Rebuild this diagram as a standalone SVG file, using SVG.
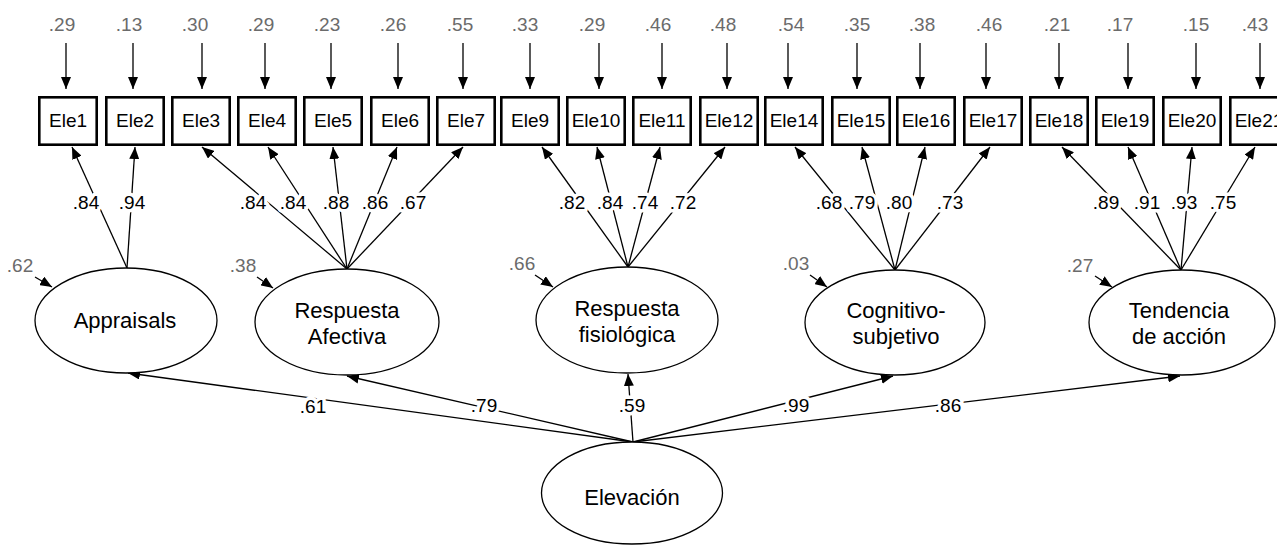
<svg xmlns="http://www.w3.org/2000/svg" width="1277" height="545" viewBox="0 0 1277 545">
  <defs>
    <marker id="ah" viewBox="0 0 12 10" refX="12" refY="5" markerWidth="12" markerHeight="10" markerUnits="userSpaceOnUse" orient="auto">
      <path d="M0,0 L12,5 L0,10 z" fill="#000"/>
    </marker>
  </defs>
  <style>
    text { font-family: "Liberation Sans", Arial, sans-serif; text-anchor: middle; }
    .box rect { fill: #fff; stroke: #000; stroke-width: 2.6; }
    .box text { font-size: 19px; fill: #000; }
    .lat ellipse { fill: #fff; stroke: #000; stroke-width: 1.3; }
    .lat text { font-size: 22px; fill: #000; }
    .conn line { stroke: #000; stroke-width: 1.3; fill: none; marker-end: url(#ah); }
    .coef { font-size: 19px; fill: #000; stroke: #fff; stroke-width: 7; stroke-linejoin: round; paint-order: stroke; }
    .var { font-size: 19px; fill: #6b6b6b; }
  </style>

  <!-- paths: errors, loadings, structural paths, disturbances -->
  <g id="connectors" class="conn">
    <!-- error terms into indicators -->
    <line x1="66" y1="43" x2="66" y2="89"/>
    <line x1="133" y1="43" x2="133" y2="89"/>
    <line x1="202" y1="43" x2="202" y2="89"/>
    <line x1="265" y1="43" x2="265" y2="89"/>
    <line x1="331" y1="43" x2="331" y2="89"/>
    <line x1="398" y1="43" x2="398" y2="89"/>
    <line x1="463" y1="43" x2="463" y2="89"/>
    <line x1="530" y1="43" x2="530" y2="89"/>
    <line x1="599" y1="43" x2="599" y2="89"/>
    <line x1="662" y1="43" x2="662" y2="89"/>
    <line x1="727" y1="43" x2="727" y2="89"/>
    <line x1="788" y1="43" x2="788" y2="89"/>
    <line x1="857" y1="43" x2="857" y2="89"/>
    <line x1="920" y1="43" x2="920" y2="89"/>
    <line x1="986" y1="43" x2="986" y2="89"/>
    <line x1="1059" y1="43" x2="1059" y2="89"/>
    <line x1="1128" y1="43" x2="1128" y2="89"/>
    <line x1="1196" y1="43" x2="1196" y2="89"/>
    <line x1="1260" y1="43" x2="1260" y2="89"/>

    <!-- loadings: Appraisals -->
    <line x1="127" y1="268" x2="72" y2="147"/>
    <line x1="127" y1="268" x2="135" y2="147"/>
    <!-- loadings: Respuesta Afectiva -->
    <line x1="347" y1="269" x2="202" y2="147"/>
    <line x1="347" y1="269" x2="268" y2="147"/>
    <line x1="347" y1="269" x2="333" y2="147"/>
    <line x1="347" y1="269" x2="397" y2="147"/>
    <line x1="347" y1="269" x2="463" y2="147"/>
    <!-- loadings: Respuesta fisiologica -->
    <line x1="628" y1="267" x2="542" y2="147"/>
    <line x1="628" y1="267" x2="597" y2="147"/>
    <line x1="628" y1="267" x2="660" y2="147"/>
    <line x1="628" y1="267" x2="725" y2="147"/>
    <!-- loadings: Cognitivo-subjetivo -->
    <line x1="895" y1="270" x2="795" y2="147"/>
    <line x1="895" y1="270" x2="862" y2="147"/>
    <line x1="895" y1="270" x2="925" y2="147"/>
    <line x1="895" y1="270" x2="990" y2="147"/>
    <!-- loadings: Tendencia de accion -->
    <line x1="1181" y1="270" x2="1062" y2="147"/>
    <line x1="1181" y1="270" x2="1128" y2="147"/>
    <line x1="1181" y1="270" x2="1192" y2="147"/>
    <line x1="1181" y1="270" x2="1255" y2="147"/>

    <!-- second-order factor to first-order factors -->
    <line x1="633" y1="442" x2="128" y2="373"/>
    <line x1="633" y1="442" x2="347" y2="376"/>
    <line x1="633" y1="442" x2="628" y2="374"/>
    <line x1="633" y1="442" x2="893" y2="376"/>
    <line x1="633" y1="442" x2="1180" y2="376"/>

    <!-- disturbances -->
    <line x1="35" y1="277" x2="52" y2="287"/>
    <line x1="257" y1="277" x2="273" y2="288"/>
    <line x1="535" y1="275" x2="553" y2="287"/>
    <line x1="810" y1="275" x2="827" y2="287"/>
    <line x1="1095" y1="276" x2="1112" y2="287"/>
  </g>

  <!-- error variances -->
  <g id="error-variances" class="var">
    <text x="62" y="31">.29</text>
    <text x="129" y="31">.13</text>
    <text x="195" y="31">.30</text>
    <text x="261" y="31">.29</text>
    <text x="327" y="31">.23</text>
    <text x="393" y="31">.26</text>
    <text x="460" y="31">.55</text>
    <text x="525" y="31">.33</text>
    <text x="592" y="31">.29</text>
    <text x="658" y="31">.46</text>
    <text x="723" y="31">.48</text>
    <text x="791" y="31">.54</text>
    <text x="857" y="31">.35</text>
    <text x="922" y="31">.38</text>
    <text x="989" y="31">.46</text>
    <text x="1057" y="31">.21</text>
    <text x="1120" y="31">.17</text>
    <text x="1196" y="31">.15</text>
    <text x="1255" y="31">.43</text>
  </g>

  <!-- indicators -->
  <g id="Ele1" class="box"><rect x="39.3" y="97.3" width="57.4" height="47.4"/><text x="68" y="127">Ele1</text></g>
  <g id="Ele2" class="box"><rect x="106.3" y="97.3" width="57.4" height="47.4"/><text x="135" y="127">Ele2</text></g>
  <g id="Ele3" class="box"><rect x="172.3" y="97.3" width="57.4" height="47.4"/><text x="201" y="127">Ele3</text></g>
  <g id="Ele4" class="box"><rect x="238.3" y="97.3" width="57.4" height="47.4"/><text x="267" y="127">Ele4</text></g>
  <g id="Ele5" class="box"><rect x="304.3" y="97.3" width="57.4" height="47.4"/><text x="333" y="127">Ele5</text></g>
  <g id="Ele6" class="box"><rect x="371.3" y="97.3" width="57.4" height="47.4"/><text x="400" y="127">Ele6</text></g>
  <g id="Ele7" class="box"><rect x="437.3" y="97.3" width="57.4" height="47.4"/><text x="466" y="127">Ele7</text></g>
  <g id="Ele9" class="box"><rect x="501.3" y="97.3" width="57.4" height="47.4"/><text x="530" y="127">Ele9</text></g>
  <g id="Ele10" class="box"><rect x="567.3" y="97.3" width="57.4" height="47.4"/><text x="596" y="127">Ele10</text></g>
  <g id="Ele11" class="box"><rect x="633.3" y="97.3" width="57.4" height="47.4"/><text x="662" y="127">Ele11</text></g>
  <g id="Ele12" class="box"><rect x="700.3" y="97.3" width="57.4" height="47.4"/><text x="729" y="127">Ele12</text></g>
  <g id="Ele14" class="box"><rect x="765.3" y="97.3" width="57.4" height="47.4"/><text x="794" y="127">Ele14</text></g>
  <g id="Ele15" class="box"><rect x="832.3" y="97.3" width="57.4" height="47.4"/><text x="861" y="127">Ele15</text></g>
  <g id="Ele16" class="box"><rect x="897.3" y="97.3" width="57.4" height="47.4"/><text x="926" y="127">Ele16</text></g>
  <g id="Ele17" class="box"><rect x="964.3" y="97.3" width="57.4" height="47.4"/><text x="993" y="127">Ele17</text></g>
  <g id="Ele18" class="box"><rect x="1030.3" y="97.3" width="57.4" height="47.4"/><text x="1059" y="127">Ele18</text></g>
  <g id="Ele19" class="box"><rect x="1096.3" y="97.3" width="57.4" height="47.4"/><text x="1125" y="127">Ele19</text></g>
  <g id="Ele20" class="box"><rect x="1163.3" y="97.3" width="57.4" height="47.4"/><text x="1192" y="127">Ele20</text></g>
  <g id="Ele21" class="box"><rect x="1230.3" y="97.3" width="57.4" height="47.4"/><text x="1259" y="127">Ele21</text></g>

  <!-- first-order factors -->
  <g id="Appraisals" class="lat">
    <ellipse cx="126" cy="320.5" rx="91" ry="52.5"/>
    <text x="125" y="328">Appraisals</text>
  </g>
  <g id="RespuestaAfectiva" class="lat">
    <ellipse cx="347" cy="322" rx="92" ry="53"/>
    <text x="347" y="318">Respuesta</text>
    <text x="347" y="344">Afectiva</text>
  </g>
  <g id="RespuestaFisiologica" class="lat">
    <ellipse cx="627" cy="320" rx="91" ry="53"/>
    <text x="627" y="316">Respuesta</text>
    <text x="627" y="342">fisiológica</text>
  </g>
  <g id="CognitivoSubjetivo" class="lat">
    <ellipse cx="895" cy="322.5" rx="90" ry="52.5"/>
    <text x="896" y="318">Cognitivo-</text>
    <text x="896" y="344">subjetivo</text>
  </g>
  <g id="TendenciaAccion" class="lat">
    <ellipse cx="1182" cy="322.5" rx="93" ry="52.5"/>
    <text x="1179" y="318">Tendencia</text>
    <text x="1179" y="344">de acción</text>
  </g>

  <!-- second-order factor -->
  <g id="Elevacion" class="lat">
    <ellipse cx="632" cy="493" rx="90.5" ry="51"/>
    <text x="632" y="505">Elevación</text>
  </g>

  <!-- disturbance variances -->
  <g id="disturbance-variances" class="var">
    <text x="20" y="272">.62</text>
    <text x="243" y="272">.38</text>
    <text x="522" y="270">.66</text>
    <text x="796" y="270">.03</text>
    <text x="1080" y="272">.27</text>
  </g>

  <!-- standardized coefficients -->
  <g id="loadings" class="coef">
    <text x="86" y="209">.84</text>
    <text x="132" y="209">.94</text>
    <text x="253" y="209">.84</text>
    <text x="293" y="209">.84</text>
    <text x="336" y="209">.88</text>
    <text x="375" y="209">.86</text>
    <text x="413" y="209">.67</text>
    <text x="572" y="209">.82</text>
    <text x="610" y="209">.84</text>
    <text x="645" y="209">.74</text>
    <text x="683" y="209">.72</text>
    <text x="829" y="209">.68</text>
    <text x="862" y="209">.79</text>
    <text x="899" y="209">.80</text>
    <text x="950" y="209">.73</text>
    <text x="1106" y="209">.89</text>
    <text x="1147" y="209">.91</text>
    <text x="1184" y="209">.93</text>
    <text x="1223" y="209">.75</text>
  </g>
  <g id="structural" class="coef">
    <text x="313" y="413">.61</text>
    <text x="484" y="412">.79</text>
    <text x="632" y="412">.59</text>
    <text x="796" y="412">.99</text>
    <text x="948" y="412">.86</text>
  </g>
</svg>
